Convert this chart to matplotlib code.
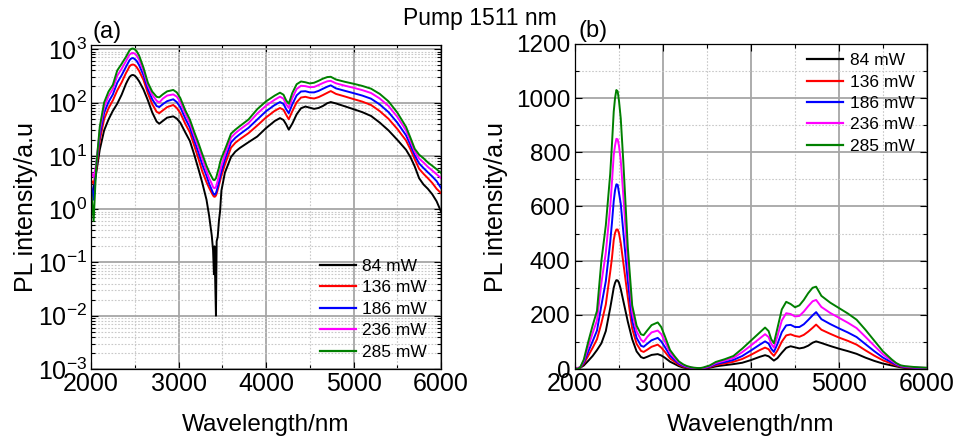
import matplotlib
matplotlib.use("Agg")
import matplotlib.pyplot as plt
from matplotlib import font_manager
from matplotlib.ticker import MultipleLocator, LogLocator, NullFormatter

# ---------------- data ----------------
wavelength = [2000, 2030, 2060, 2100, 2150, 2200, 2250, 2300, 2350, 2400,
              2420, 2440, 2455, 2470, 2485, 2500, 2520,
              2550, 2600, 2650, 2700, 2750, 2780, 2820,
              2870, 2940, 2980, 3020, 3080, 3130, 3180, 3230, 3270, 3320,
              3350, 3380, 3395, 3405, 3412, 3418, 3428, 3436, 3448, 3462,
              3475, 3490, 3530, 3600, 3650, 3700, 3800, 3900, 4000, 4100,
              4160, 4200, 4230, 4260, 4300, 4350, 4400, 4450, 4500, 4550,
              4600, 4650, 4700, 4740, 4800, 4900, 5000, 5100, 5200, 5300,
              5400, 5500, 5600, 5650, 5700, 5750, 5800, 5850, 5900, 5950,
              6000]

pl_84mW = [1.7, 2.5, 4.8, 13, 30, 48, 70, 95, 140, 225,
           262, 300, 318, 328, 327, 318, 295,
           250, 175, 110, 65, 44, 40, 45,
           52, 55, 50, 42, 27, 19, 10.5, 5.5, 3.2, 1.5,
           0.75, 0.32, 0.17, 0.06, 0.2, 0.06, 0.01, 0.25, 0.3, 0.6,
           0.9, 2.2, 4.8, 9.5, 12, 14, 18, 23, 33, 45,
           51, 47, 39, 31, 40, 60, 78, 84, 80, 76,
           79, 86, 97, 102, 96, 85, 75, 66, 56, 42,
           30, 20, 13, 9.5, 6.3, 3.8, 2.9, 2.4, 1.9, 1.4,
           0.9]

pl_136mW = [3.5, 3.0, 5.5, 19.4, 48.6, 78, 110, 169, 238, 358,
            410, 476, 502, 515, 515, 501, 465,
            390, 265, 149, 93, 67, 63, 71,
            82, 90, 79, 64, 39, 27.5, 15.5, 8.6, 5.2, 3.2,
            2.5, 2.0, 1.8, 1.72, 1.7, 1.72, 1.8, 1.95, 2.3, 2.8,
            3.4, 4.2, 6.8, 14.2, 17.6, 20.4, 26.6, 37, 52.4, 70,
            79, 73, 59, 48.5, 68, 101, 124, 128, 122, 119,
            126, 138, 152, 164, 145, 130, 116, 104, 90, 69,
            49.5, 32, 19.4, 13.3, 8.6, 5.7, 4.6, 3.8, 3.1, 2.4,
            2.0]

pl_186mW = [3.0, 1.5, 6.5, 24, 64, 102, 142, 235, 324, 468,
            540, 620, 660, 682, 680, 650, 610,
            503, 325, 178, 115, 86, 82, 93,
            106, 115, 102, 82, 49, 34, 19.5, 11.2, 7.0, 4.2,
            3.0, 2.3, 2.0, 1.9, 1.86, 1.9, 2.0, 2.2, 2.6, 3.2,
            4.0, 5.0, 8.5, 17.8, 21.8, 25.4, 33.5, 48, 68.5, 90,
            102, 94, 75, 63, 92, 136, 161, 163, 155, 155,
            165, 181, 198, 210, 184, 166, 150, 135, 118, 92,
            66, 42, 24.3, 16, 10.2, 7.2, 5.9, 4.9, 4.1, 3.35,
            2.5]

pl_236mW = [5.0, 4.0, 7.0, 30, 82, 132, 180, 318, 429, 598,
            690, 790, 825, 850, 848, 823, 770,
            636, 395, 209, 139, 108, 100, 118,
            135, 142, 129, 103, 60, 41, 24, 14.2, 9.0, 5.2,
            3.8, 3.0, 2.6, 2.5, 2.46, 2.5, 2.6, 2.9, 3.4, 4.2,
            5.2, 6.5, 10.5, 22, 26.6, 31, 41, 62, 87, 113,
            128.5, 118, 93, 79, 121, 179, 206, 203, 194, 196,
            212, 232, 250, 255, 229, 207, 189, 171, 151, 119,
            86, 54, 30, 19, 12, 8.9, 7.5, 6.2, 5.3, 4.5,
            3.8]

pl_285mW = [2.5, 0.6, 6.5, 35, 100, 160, 215, 400, 530, 720,
            830, 950, 1000, 1030, 1025, 990, 925,
            760, 450, 235, 160, 128, 125, 142,
            162, 172, 155, 122, 70, 48, 28, 17, 11, 6.5,
            5.0, 4.0, 3.6, 3.5, 3.5, 3.6, 3.8, 4.2, 5.0, 6.0,
            7.5, 9.0, 13, 26, 31, 36, 48, 75, 105, 135,
            153, 140, 110, 95, 150, 220, 248, 240, 228, 235,
            255, 280, 300, 304, 270, 245, 225, 205, 182, 145,
            105, 65, 35, 22, 13.5, 10.5, 9, 7.5, 6.5, 5.6,
            4.8]

series_labels = ["84 mW", "136 mW", "186 mW", "236 mW", "285 mW"]
series_values = [pl_84mW, pl_136mW, pl_186mW, pl_236mW, pl_285mW]
series_colors = ["#000000", "#ff0000", "#0000ff", "#ff00ff", "#008000"]

title_text = "Pump 1511 nm"
xlabel_text = "Wavelength/nm"
ylabel_text = "PL intensity/a.u"

# ---------------- fonts ----------------
available = {f.name for f in font_manager.fontManager.ttflist}
family = [c for c in ["Liberation Sans", "DejaVu Sans"] if c in available]
plt.rcParams['font.family'] = family
plt.rcParams['mathtext.fontset'] = 'custom'
plt.rcParams['mathtext.rm'] = family[0]
plt.rcParams['mathtext.it'] = family[0]
plt.rcParams['mathtext.bf'] = family[0]

fig = plt.figure(figsize=(9.55, 4.38), dpi=100)
axa = fig.add_axes([91/955, 1-369/438, 350/955, 324/438])
axb = fig.add_axes([575/955, 1-369/438, 352/955, 325/438])

major_grid = dict(color="#a6a6a6", linewidth=1.3, linestyle="-")
minor_grid = dict(color="#c8c8c8", linewidth=0.8, linestyle=(0, (1.5, 1.5)))

for ax in (axa, axb):
    for lab, vals, col in zip(series_labels, series_values, series_colors):
        ax.plot(wavelength, vals, color=col, lw=1.4, label=lab)
    ax.set_xlim(2000, 6000)
    ax.xaxis.set_major_locator(MultipleLocator(1000))
    ax.xaxis.set_minor_locator(MultipleLocator(500))
    ax.grid(True, which="major", **major_grid)
    ax.grid(True, which="minor", **minor_grid)
    ax.set_axisbelow(True)
    ax.tick_params(which="both", direction="in", top=True, right=True)
    ax.tick_params(axis="x", labelsize=18, pad=2)
    ax.tick_params(which="major", length=5, width=0.8)
    ax.tick_params(which="minor", length=3, width=0.8)
    for s in ax.spines.values():
        s.set_linewidth(0.9)
    ax.set_xlabel(xlabel_text, fontsize=17.5, labelpad=13)
    ax.set_ylabel(ylabel_text, fontsize=18)

axa.set_yscale("log")
axa.set_ylim(1e-3, 1.2e3)
axa.yaxis.set_major_locator(LogLocator(base=10, numticks=10))
axa.yaxis.set_minor_locator(LogLocator(base=10, subs=range(2, 10), numticks=20))
axa.yaxis.set_minor_formatter(NullFormatter())
axa.tick_params(axis="y", labelsize=18, pad=3)
axa.yaxis.set_label_coords(-0.151, 0.5)

axb.set_ylim(0, 1200)
axb.yaxis.set_major_locator(MultipleLocator(200))
axb.yaxis.set_minor_locator(MultipleLocator(100))
axb.tick_params(axis="y", labelsize=17.5, pad=3.5)
axb.yaxis.set_label_coords(-0.19, 0.5)

leg_kw = dict(loc="upper left", frameon=False, fontsize=12.5, handlelength=2.1,
              handletextpad=0.35, labelspacing=0.36, borderpad=0, borderaxespad=0)
lega = axa.legend(bbox_to_anchor=(0.654, 0.34), **leg_kw)
legb = axb.legend(bbox_to_anchor=(0.659, 0.972), **leg_kw)
for leg in (lega, legb):
    for h in leg.get_lines():
        h.set_linewidth(1.6)

fig.text(92/955, 1-32/438, "(a)", fontsize=17, va="center", ha="left")
fig.text(578/955, 1-31/438, "(b)", fontsize=17, va="center", ha="left")
fig.text(480/955, 1-18/438, title_text, fontsize=16.5, va="center", ha="center")

fig.savefig("out.png", dpi=100)
